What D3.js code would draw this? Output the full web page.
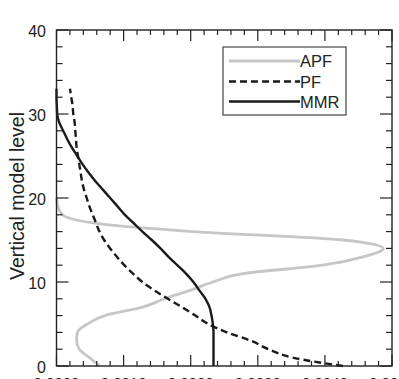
<!DOCTYPE html>
<html><head><meta charset="utf-8">
<script src="https://cdn.jsdelivr.net/npm/d3@7"></script>
<style>body{margin:0;background:#fff}svg{display:block}text{font-family:"Liberation Sans",Arial,Helvetica,sans-serif}</style>
</head><body><svg id="c" width="399" height="379"></svg>
<script>
const levelsAPF = [0,1,2,3,4,5,6,7,8,9,10,11,12,13,14,15,16,17,18,19,20];
const apf = [0.00064,0.00049,0.00034,0.00030,0.00031,0.00046,0.00072,0.00128,0.00161,0.00199,0.00233,0.00278,0.00397,0.00457,0.00487,0.00427,0.00203,0.00057,0.00009,0.00002,0];
const levels = [0,1,2,3,4,5,6,7,8,9,10,11,12,13,14,15,16,17,18,19,20,21,22,23,24,25,26,27,28,29,30,31,32,33];
const pf = [0.00427,0.00352,0.00316,0.00290,0.00254,0.00226,0.00207,0.00187,0.00166,0.00146,0.00128,0.00114,0.00101,0.00090,0.00080,0.00071,0.00064,0.00059,0.00054,0.00049,0.00045,0.00041,0.00038,0.00036,0.00034,0.00032,0.00030,0.00029,0.00028,0.00027,0.00025,0.00024,0.00022,0.00020];
const mmr = [0.00234,0.00234,0.00234,0.00234,0.00234,0.00233,0.00231,0.00228,0.00222,0.00213,0.00204,0.00193,0.00180,0.00167,0.00155,0.00142,0.00128,0.00115,0.00102,0.00091,0.00080,0.00069,0.00058,0.00048,0.00039,0.00031,0.00023,0.00016,0.00010,0.00004,0.00001,0.000005,0,0];
const xTicks = [0,0.001,0.002,0.003,0.004,0.005];
const yTicks = [0,10,20,30,40];
const seriesNames = ["APF","PF","MMR"];

const L=56.5,R=392,T=30,B=366;
const x = d3.scaleLinear().domain([0,0.005]).range([L,R]);
const y = d3.scaleLinear().domain([0,40]).range([B,T]);
const svg = d3.select("#c");

const line = (xs,ys)=>d3.line().curve(d3.curveMonotoneY).x((d,i)=>x(xs[i])).y((d,i)=>y(ys[i]))(xs);
const styles = {
  APF:{stroke:"#c6c6c6",width:2.8,dash:null},
  PF:{stroke:"#1a1a1a",width:2.4,dash:"7,4"},
  MMR:{stroke:"#1a1a1a",width:2.4,dash:null}
};
const data = {APF:[apf,levelsAPF],PF:[pf,levels],MMR:[mmr,levels]};
const g = svg.append("g");
seriesNames.forEach(n=>{
  g.append("path").attr("d",line(data[n][0],data[n][1])).attr("fill","none")
   .attr("stroke",styles[n].stroke).attr("stroke-width",styles[n].width)
   .attr("stroke-dasharray",styles[n].dash).attr("stroke-linejoin","round");
});

// axes (ticks inward, mirrored)
const ax = svg.append("g").attr("stroke","#222").attr("stroke-width",1.2);
const xMinor = d3.range(0,0.00501,0.0002);
const yMinor = d3.range(0,40.1,2);
function tickLen(v,majors,maj,min){return majors.some(m=>Math.abs(m-v)<1e-9)?maj:min;}
xMinor.forEach(v=>{
  const len = tickLen(v,xTicks,11,5);
  ax.append("line").attr("x1",x(v)).attr("x2",x(v)).attr("y1",B).attr("y2",B-len);
  ax.append("line").attr("x1",x(v)).attr("x2",x(v)).attr("y1",T).attr("y2",T+len);
});
yMinor.forEach(v=>{
  const len = tickLen(v,yTicks,12,6);
  ax.append("line").attr("x1",L).attr("x2",L+len).attr("y1",y(v)).attr("y2",y(v));
  ax.append("line").attr("x1",R).attr("x2",R-len).attr("y1",y(v)).attr("y2",y(v));
});
svg.append("rect").attr("x",L).attr("y",T).attr("width",R-L).attr("height",B-T)
  .attr("fill","none").attr("stroke","#222").attr("stroke-width",1.4);

const fmt = d3.format(".4f");
svg.selectAll(".xl").data(xTicks).enter().append("text")
  .attr("x",d=>x(d)).attr("y",388).attr("text-anchor","middle")
  .attr("font-size",15).attr("fill","#222").text(d=>fmt(d));
svg.selectAll(".yl").data(yTicks).enter().append("text")
  .attr("x",46).attr("y",d=>y(d)+6.5).attr("text-anchor","end")
  .attr("font-size",16).attr("fill","#222").text(d=>d);
svg.append("text").attr("transform","translate(24,196) rotate(-90)")
  .attr("text-anchor","middle").attr("font-size",19.5).attr("fill","#222")
  .text("Vertical model level");

// legend
const lg = svg.append("g");
lg.append("rect").attr("x",223).attr("y",47).attr("width",123).attr("height",68)
  .attr("fill","#fff").attr("stroke","#444").attr("stroke-width",1.2);
const ly = [61,81.5,101.5];
seriesNames.forEach((n,i)=>{
  lg.append("line").attr("x1",229).attr("x2",300).attr("y1",ly[i]).attr("y2",ly[i])
    .attr("stroke",styles[n].stroke).attr("stroke-width",styles[n].width)
    .attr("stroke-dasharray",styles[n].dash);
  lg.append("text").attr("x",300).attr("y",ly[i]+6).attr("font-size",16.5)
    .attr("fill","#222").text(n);
});
</script></body></html>
